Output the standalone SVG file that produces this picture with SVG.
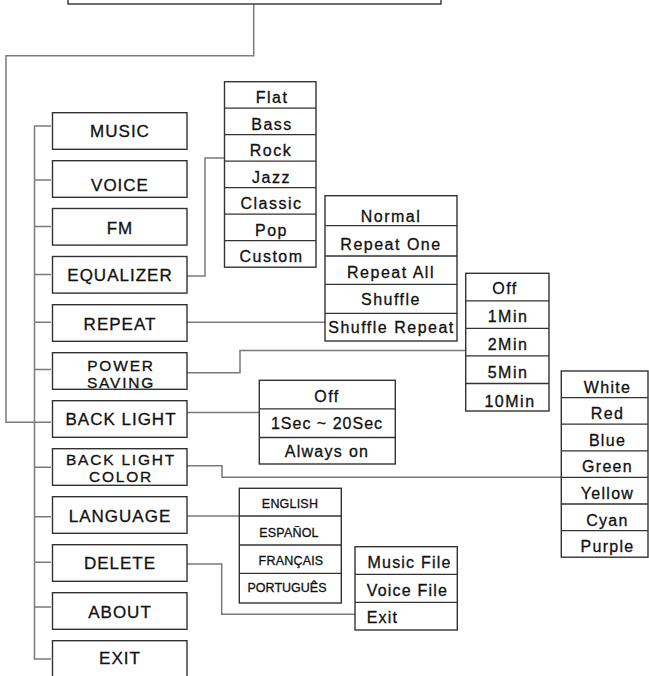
<svg xmlns="http://www.w3.org/2000/svg" width="649" height="676" viewBox="0 0 649 676">
<style>
.bx{fill:#fff;stroke:#333;stroke-width:1.4}
.sep{stroke:#333;stroke-width:1.3}
.cn{fill:none;stroke:#7a7a7a;stroke-width:1.5}
text{font-family:"Liberation Sans",Arial,sans-serif;fill:#111;stroke:#111;stroke-width:0.3;text-anchor:middle}
.m{font-size:17px;letter-spacing:1px}
.m2{font-size:15.5px;letter-spacing:1.8px}
.s{font-size:16px;letter-spacing:1.5px}
.l{font-size:12.5px;letter-spacing:0.2px}
.d{font-size:16px;letter-spacing:1.2px;text-anchor:start}
</style>
<rect width="649" height="676" fill="#fff"/>
<g id="connectors">
<path class="cn" d="M253.7,4 V55.7 H6 V422.3 H34.5"/>
<path class="cn" d="M51,126 H34.5 V659 H51"/>
<path class="cn" d="M34.5,180 H51 M34.5,226.5 H51 M34.5,274.5 H51 M34.5,322.3 H51 M34.5,369.5 H51 M34.5,422.3 H51 M34.5,467.3 H51 M34.5,516.7 H51 M34.5,562.3 H51 M34.5,607 H51"/>
<path class="cn" d="M187,276 H205 V158 H224.5"/>
<path class="cn" d="M187,322.3 H325"/>
<path class="cn" d="M187,372.7 H240 V350.5 H465.7"/>
<path class="cn" d="M187,412.5 H259.3"/>
<path class="cn" d="M187,465.7 H222 V477.3 H561.3"/>
<path class="cn" d="M187,516 H239.3"/>
<path class="cn" d="M187,564 H221.7 V614.3 H355"/>
</g>
<g id="top"><rect class="bx" x="68" y="-10" width="373" height="14"/></g>
<g id="music"><rect class="bx" x="52.5" y="112.7" width="134.5" height="36.6"/><text class="m" x="120" y="136.7">MUSIC</text></g>
<g id="voice"><rect class="bx" x="52.5" y="160.7" width="134.5" height="36.6"/><text class="m" x="120" y="190.7">VOICE</text></g>
<g id="fm"><rect class="bx" x="52.5" y="208.5" width="134.5" height="36.6"/><text class="m" x="120" y="234">FM</text></g>
<g id="equalizer"><rect class="bx" x="52.5" y="256.5" width="134.5" height="36.6"/><text class="m" x="120" y="281">EQUALIZER</text></g>
<g id="repeat"><rect class="bx" x="52.5" y="304.7" width="134.5" height="36.6"/><text class="m" x="120" y="330.3">REPEAT</text></g>
<g id="power-saving"><rect class="bx" x="52.5" y="352.7" width="134.5" height="36.6"/><text class="m2" x="121" y="370.5">POWER</text><text class="m2" x="121" y="388">SAVING</text></g>
<g id="back-light"><rect class="bx" x="52.5" y="400.7" width="134.5" height="36.6"/><text class="m" x="121" y="425.3">BACK LIGHT</text></g>
<g id="back-light-color"><rect class="bx" x="52.5" y="448.7" width="134.5" height="36.6"/><text class="m2" x="121" y="464.8">BACK LIGHT</text><text class="m2" x="121" y="482.3">COLOR</text></g>
<g id="language"><rect class="bx" x="52.5" y="496.7" width="134.5" height="36.6"/><text class="m" x="120" y="522">LANGUAGE</text></g>
<g id="delete"><rect class="bx" x="52.5" y="544.7" width="134.5" height="36.6"/><text class="m" x="120" y="568.7">DELETE</text></g>
<g id="about"><rect class="bx" x="52.5" y="592.7" width="134.5" height="36.6"/><text class="m" x="120" y="617.7">ABOUT</text></g>
<g id="exit"><rect class="bx" x="52.5" y="640.7" width="134.5" height="40"/><text class="m" x="120" y="664.3">EXIT</text></g>
<g id="eq-list">
<rect class="bx" x="224.5" y="81.7" width="91.5" height="185.5"/>
<path class="sep" d="M224.5,108.2 H316 M224.5,134.7 H316 M224.5,161.2 H316 M224.5,187.7 H316 M224.5,214.2 H316 M224.5,240.7 H316"/>
<text class="s" x="272" y="103">Flat</text>
<text class="s" x="272" y="129.5">Bass</text>
<text class="s" x="271" y="156">Rock</text>
<text class="s" x="271.5" y="182.5">Jazz</text>
<text class="s" x="271.5" y="209">Classic</text>
<text class="s" x="271.5" y="235.5">Pop</text>
<text class="s" x="271.5" y="262">Custom</text>
</g>
<g id="repeat-list">
<rect class="bx" x="325" y="195.7" width="132" height="145.3"/>
<path class="sep" d="M325,225.7 H457 M325,256 H457 M325,284.3 H457 M325,313.3 H457"/>
<text class="s" x="391" y="221.5">Normal</text>
<text class="s" x="391" y="250">Repeat One</text>
<text class="s" x="391" y="277.5">Repeat All</text>
<text class="s" x="391" y="305.3">Shuffle</text>
<text class="s" x="391.5" y="333">Shuffle Repeat</text>
</g>
<g id="power-list">
<rect class="bx" x="465.7" y="273.3" width="83.3" height="137.7"/>
<path class="sep" d="M465.7,300.8 H549 M465.7,328.4 H549 M465.7,355.9 H549 M465.7,383.5 H549"/>
<text class="s" x="505" y="294">Off</text>
<text class="s" x="508" y="322.3">1Min</text>
<text class="s" x="508" y="350.3">2Min</text>
<text class="s" x="508" y="378.3">5Min</text>
<text class="s" x="510" y="406.7">10Min</text>
</g>
<g id="backlight-list">
<rect class="bx" x="259.3" y="380.3" width="136" height="83.7"/>
<path class="sep" d="M259.3,408.9 H395.3 M259.3,437.5 H395.3"/>
<text class="s" x="327" y="401.7">Off</text>
<text class="s" x="327" y="429.3" style="letter-spacing:1px">1Sec ~ 20Sec</text>
<text class="s" x="327" y="456.7" style="letter-spacing:1.3px">Always on</text>
</g>
<g id="color-list">
<rect class="bx" x="561.3" y="371" width="86.7" height="186.2"/>
<path class="sep" d="M561.3,397.6 H648 M561.3,424.2 H648 M561.3,450.8 H648 M561.3,477.4 H648 M561.3,504 H648 M561.3,530.6 H648"/>
<text class="s" x="607.5" y="392.7" style="letter-spacing:1.3px">White</text>
<text class="s" x="607.5" y="419.3" style="letter-spacing:1.3px">Red</text>
<text class="s" x="607.5" y="446" style="letter-spacing:1.3px">Blue</text>
<text class="s" x="607.5" y="472.3" style="letter-spacing:1.3px">Green</text>
<text class="s" x="607.5" y="499" style="letter-spacing:1.3px">Yellow</text>
<text class="s" x="607.5" y="525.7" style="letter-spacing:1.3px">Cyan</text>
<text class="s" x="607.5" y="551.7" style="letter-spacing:1.3px">Purple</text>
</g>
<g id="language-list">
<rect class="bx" x="239.3" y="488.3" width="102" height="114.7"/>
<path class="sep" d="M239.3,516 H341.3 M239.3,545 H341.3 M239.3,573.3 H341.3"/>
<text class="l" x="290" y="507.7">ENGLISH</text>
<text class="l" x="289" y="536.7">ESPAÑOL</text>
<text class="l" x="291" y="565">FRANÇAIS</text>
<text class="l" x="287" y="592.3" style="letter-spacing:0">PORTUGUÊS</text>
</g>
<g id="delete-list">
<rect class="bx" x="355" y="546.7" width="102.3" height="83.3"/>
<path class="sep" d="M355,574.3 H457.3 M355,602.3 H457.3"/>
<text class="d" x="367.5" y="568.3">Music File</text>
<text class="d" x="366.7" y="596">Voice File</text>
<text class="d" x="366.7" y="622.7">Exit</text>
</g>
</svg>
